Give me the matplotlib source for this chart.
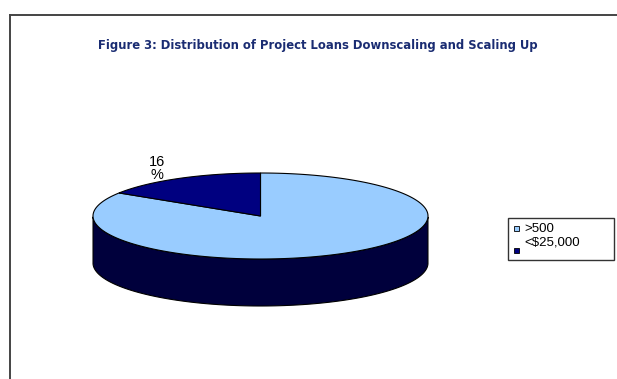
import numpy as np
import matplotlib.pyplot as plt
from matplotlib.patches import Polygon, Rectangle
from matplotlib.lines import Line2D

# data
categories = [">500", "<$25,000"]
shares = [84, 16]
shown_labels = [None, "16\n%"]

# style
top_colors = ["#99CCFF", "#000080"]
side_colors = ["#00003C", "#00003C"]
title_color = "#1A2C72"

W, H = 617, 379
fig = plt.figure(figsize=(W / 100, H / 100), dpi=100)
ax = fig.add_axes([0, 0, 1, 1])
ax.set_xlim(0, W)
ax.set_ylim(H, 0)
ax.axis("off")

# chart area border (top and left only show)
ax.add_line(Line2D([9.5, W], [14.5, 14.5], color="#444444", lw=1.4))
ax.add_line(Line2D([10, 10], [14.5, H], color="#444444", lw=1.4))

title = ax.text(318, 45, "Figure 3: Distribution of Project Loans Downscaling and Scaling Up",
                ha="center", va="center", color=title_color, fontsize=12,
                fontweight="heavy", fontstretch="condensed", family="DejaVu Sans")
# size the title to span roughly 440 px
fig.canvas.draw()
tw = title.get_window_extent().width
title.set_fontsize(12 * 440 / tw)

# 3d pie geometry
cx, cy, rx, ry, depth = 260.5, 216.0, 167.5, 43.0, 47.0


def pt(t, drop=0.0):
    return cx + rx * np.cos(t), cy - ry * np.sin(t) + drop


fracs = np.array(shares, dtype=float) / sum(shares)
bounds = np.radians(90 - 360 * np.concatenate([[0], np.cumsum(fracs)]))

# side walls: only the front half of the rim is visible
for i in range(len(shares)):
    ts = np.mod(np.linspace(bounds[i + 1], bounds[i], 200), 2 * np.pi)
    front = np.sort(ts[(ts >= np.pi) & (ts <= 2 * np.pi)])
    if len(front) < 2:
        continue
    xs, ys = pt(front)
    xb, yb = pt(front[::-1], depth)
    verts = np.column_stack([np.concatenate([xs, xb]), np.concatenate([ys, yb])])
    ax.add_patch(Polygon(verts, closed=True, fc=side_colors[i], ec="black", lw=0.8))

# top faces
for i in range(len(shares)):
    ts = np.linspace(bounds[i], bounds[i + 1], 200)
    xs, ys = pt(ts)
    verts = np.column_stack([np.concatenate([[cx], xs]), np.concatenate([[cy], ys])])
    ax.add_patch(Polygon(verts, closed=True, fc=top_colors[i], ec="black", lw=0.8))

    if shown_labels[i]:
        mid = (bounds[i] + bounds[i + 1]) / 2
        lx, ly = cx + rx * 1.25 * np.cos(mid), cy - ry * 1.27 * np.sin(mid)
        ax.text(lx - 3, ly, shown_labels[i], ha="center", va="center",
                fontsize=10.5, family="Liberation Sans", linespacing=0.9)

# legend
ax.add_patch(Rectangle((508, 218), 106, 42, fc="white", ec="#333333", lw=1.0))
marker_y = [225.5, 247.5]
text_y = [228.5, 242.5]
for i, name in enumerate(categories):
    ax.add_patch(Rectangle((513.5, marker_y[i]), 5.5, 5.5, fc=top_colors[i], ec="black", lw=0.6))
    ax.text(524, text_y[i], name, ha="left", va="center", fontsize=9.5,
            family="Liberation Sans")

fig.savefig("out.png", dpi=100)
